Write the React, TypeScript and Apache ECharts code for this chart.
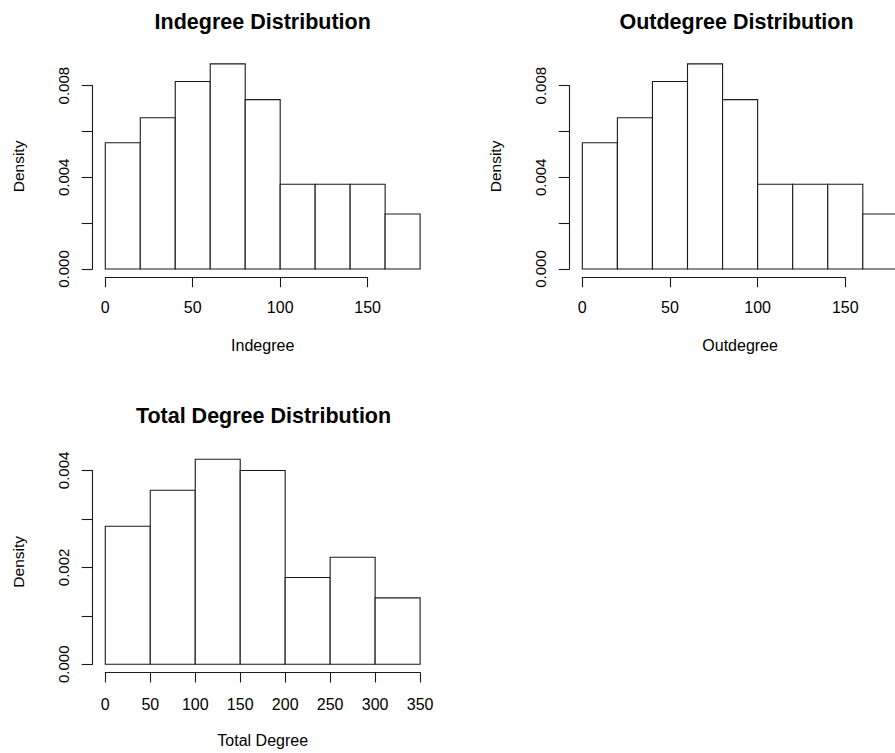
import React, { useEffect, useRef } from "react";
import * as echarts from "echarts";

// ---- data ----
const indegreeBreaks = [0, 20, 40, 60, 80, 100, 120, 140, 160, 180];
const indegreeDensity = [0.00551, 0.0066, 0.00818, 0.00895, 0.00739, 0.0037, 0.0037, 0.0037, 0.0024];
const outdegreeBreaks = [0, 20, 40, 60, 80, 100, 120, 140, 160, 180];
const outdegreeDensity = [0.00551, 0.0066, 0.00818, 0.00895, 0.00739, 0.0037, 0.0037, 0.0037, 0.0024];
const totalBreaks = [0, 50, 100, 150, 200, 250, 300, 350];
const totalDensity = [0.00285, 0.00359, 0.00423, 0.004, 0.00179, 0.00221, 0.00137];

// ---- tick labels ----
const degreeTicks = [0, 50, 100, 150];
const totalTicks = [0, 50, 100, 150, 200, 250, 300, 350];
const degreeDensityTicks = [0, 0.002, 0.004, 0.006, 0.008];
const degreeDensityLabels = ["0.000", "", "0.004", "", "0.008"];
const totalDensityTicks = [0, 0.001, 0.002, 0.003, 0.004];
const totalDensityLabels = ["0.000", "", "0.002", "", "0.004"];

const FONT = "'Liberation Sans', Arial, Helvetica, sans-serif";
const LINE = "#1a1a1a";
const TEXT = "#000";

type Panel = {
  title: string;
  titleX: number;
  titleTop: number;
  plot: { left: number; top: number; width: number; height: number };
  breaks: number[];
  density: number[];
  xTicks: number[];
  yTicks: number[];
  yLabels: string[];
  xName: string;
  yName: string;
  xLabelMargin: number;
};

const panels: Panel[] = [
  {
    title: "Indegree Distribution",
    titleX: 262.7,
    titleTop: 11,
    plot: { left: 92.7, top: 55.7, width: 340, height: 221.5 },
    breaks: indegreeBreaks,
    density: indegreeDensity,
    xTicks: degreeTicks,
    yTicks: degreeDensityTicks,
    yLabels: degreeDensityLabels,
    xName: "Indegree",
    yName: "Density",
    xLabelMargin: 22,
  },
  {
    title: "Outdegree Distribution",
    titleX: 736.5,
    titleTop: 11,
    plot: { left: 569.7, top: 55.7, width: 340.8, height: 221.5 },
    breaks: outdegreeBreaks,
    density: outdegreeDensity,
    xTicks: degreeTicks,
    yTicks: degreeDensityTicks,
    yLabels: degreeDensityLabels,
    xName: "Outdegree",
    yName: "Density",
    xLabelMargin: 22,
  },
  {
    title: "Total Degree Distribution",
    titleX: 263.5,
    titleTop: 405,
    plot: { left: 92.7, top: 451.1, width: 340, height: 221.4 },
    breaks: totalBreaks,
    density: totalDensity,
    xTicks: totalTicks,
    yTicks: totalDensityTicks,
    yLabels: totalDensityLabels,
    xName: "Total Degree",
    yName: "Density",
    xLabelMargin: 23.5,
  },
];

function buildOption() {
  const title: any[] = [];
  const grid: any[] = [];
  const xAxis: any[] = [];
  const yAxis: any[] = [];
  const series: any[] = [];

  panels.forEach((p) => {
    const x0 = p.breaks[0];
    const x1 = p.breaks[p.breaks.length - 1];
    const xlo = x0 - 0.04 * (x1 - x0);
    const xhi = x1 + 0.04 * (x1 - x0);
    const ymax = Math.max(...p.density);
    const ylo = -0.04 * ymax;
    const yhi = ymax * 1.04;

    title.push({
      text: p.title,
      left: p.titleX,
      top: p.titleTop,
      textAlign: "center",
      padding: 0,
      textStyle: { fontFamily: FONT, fontSize: 21.5, fontWeight: "bold", color: TEXT },
    });

    // grid A: plot region, carries bars and axis names
    const gA = grid.length;
    grid.push({ ...p.plot, outerBoundsMode: "none", containLabel: false });
    xAxis.push({
      gridIndex: gA,
      type: "value",
      min: xlo,
      max: xhi,
      axisLine: { show: false, onZero: false },
      axisTick: { show: false },
      axisLabel: { show: false },
      splitLine: { show: false },
      name: p.xName,
      nameLocation: "middle",
      nameGap: 60,
      nameTextStyle: { fontFamily: FONT, fontSize: 16, color: TEXT },
    });
    yAxis.push({
      gridIndex: gA,
      type: "value",
      min: ylo,
      max: yhi,
      axisLine: { show: false, onZero: false },
      axisTick: { show: false },
      axisLabel: { show: false },
      splitLine: { show: false },
      name: p.yName,
      nameLocation: "middle",
      nameGap: 66,
      nameTextStyle: { fontFamily: FONT, fontSize: 15.5, color: TEXT },
    });
    const axA = xAxis.length - 1;
    const ayA = yAxis.length - 1;

    series.push({
      type: "custom",
      xAxisIndex: axA,
      yAxisIndex: ayA,
      silent: true,
      data: p.density.map((d, i) => [p.breaks[i], p.breaks[i + 1], d]),
      encode: { x: [0, 1], y: 2 },
      renderItem: (params: any, api: any) => {
        const a = api.coord([api.value(0), api.value(2)]);
        const b = api.coord([api.value(1), 0]);
        return {
          type: "rect",
          shape: { x: a[0], y: a[1], width: b[0] - a[0], height: b[1] - a[1] },
          style: { fill: "#fff", stroke: LINE, lineWidth: 1.1 },
        };
      },
    });

    // grid B: x axis spanning the tick range
    const tx0 = p.xTicks[0];
    const tx1 = p.xTicks[p.xTicks.length - 1];
    const gB = grid.length;
    grid.push({
      left: p.plot.left + ((tx0 - xlo) / (xhi - xlo)) * p.plot.width,
      width: ((tx1 - tx0) / (xhi - xlo)) * p.plot.width,
      top: p.plot.top,
      height: p.plot.height,
      outerBoundsMode: "none",
      containLabel: false,
    });
    xAxis.push({
      gridIndex: gB,
      type: "value",
      position: "bottom",
      min: tx0,
      max: tx1,
      interval: p.xTicks[1] - p.xTicks[0],
      axisLine: { show: true, onZero: false, lineStyle: { color: LINE, width: 1.1 } },
      axisTick: { show: true, length: 10, lineStyle: { color: LINE, width: 1.1 } },
      axisLabel: {
        show: true,
        margin: p.xLabelMargin,
        fontFamily: FONT,
        fontSize: 16,
        color: TEXT,
        formatter: (v: number) => {
          const t = p.xTicks.find((k) => Math.abs(k - v) < 1e-9);
          return t === undefined ? "" : String(t);
        },
      },
      splitLine: { show: false },
    });
    yAxis.push({ gridIndex: gB, type: "value", show: false, min: ylo, max: yhi, axisLine: { onZero: false } });

    // grid C: y axis spanning the tick range
    const ty0 = p.yTicks[0];
    const ty1 = p.yTicks[p.yTicks.length - 1];
    const gC = grid.length;
    grid.push({
      left: p.plot.left,
      width: p.plot.width,
      top: p.plot.top + ((yhi - ty1) / (yhi - ylo)) * p.plot.height,
      height: ((ty1 - ty0) / (yhi - ylo)) * p.plot.height,
      outerBoundsMode: "none",
      containLabel: false,
    });
    xAxis.push({ gridIndex: gC, type: "value", show: false, min: xlo, max: xhi, axisLine: { onZero: false } });
    yAxis.push({
      gridIndex: gC,
      type: "value",
      position: "left",
      min: ty0,
      max: ty1,
      interval: p.yTicks[1] - p.yTicks[0],
      axisLine: { show: true, onZero: false, lineStyle: { color: LINE, width: 1.1 } },
      axisTick: { show: true, length: 11, lineStyle: { color: LINE, width: 1.1 } },
      axisLabel: {
        show: true,
        rotate: 90,
        margin: 22,
        fontFamily: FONT,
        fontSize: 15,
        color: TEXT,
        formatter: (v: number) => {
          const i = p.yTicks.findIndex((k) => Math.abs(k - v) < 1e-9);
          return i < 0 ? "" : p.yLabels[i];
        },
      },
      splitLine: { show: false },
    });
  });

  return {
    animation: false,
    backgroundColor: "#fff",
    title,
    grid,
    xAxis,
    yAxis,
    series,
  };
}

export default function App() {
  const ref = useRef<HTMLDivElement>(null);
  useEffect(() => {
    if (!ref.current) return;
    const chart = echarts.init(ref.current, undefined, { renderer: "svg" });
    chart.setOption(buildOption() as any);
    return () => chart.dispose();
  }, []);
  return (
    <div
      ref={ref}
      style={{ position: "fixed", left: 0, top: 0, width: 895, height: 753, background: "#fff" }}
    />
  );
}
